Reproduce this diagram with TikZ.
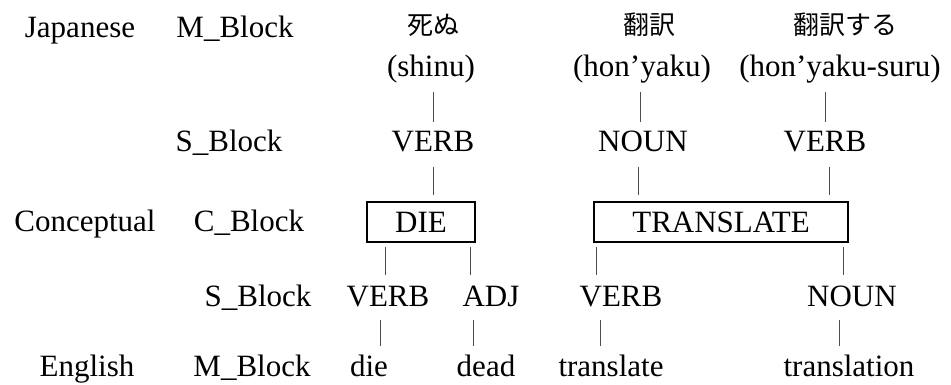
\documentclass[tikz,border=0pt]{standalone}
\usepackage{fontspec}
\setmainfont{Liberation Serif}
\newfontfamily\cjk{Noto Sans CJK JP}
\begin{document}
\begin{tikzpicture}[x=1pt,y=-1pt,
  lbl/.style={anchor=base,inner sep=0pt,font=\fontsize{31}{37}\selectfont},
  jp/.style={anchor=base,inner sep=0pt,font=\cjk\fontsize{26}{30}\selectfont},
  conn/.style={draw=black!70,line width=1pt},
  cbox/.style={draw,line width=1.6pt,inner sep=0pt,minimum height=40pt,font=\fontsize{31}{37}\selectfont}]
\useasboundingbox[fill=white] (0,0) rectangle (951,385);
% row 1
\node[lbl] (ja) at (80,38) {Japanese};
\node[lbl] (mj) at (235,38) {M\_Block};
\node[jp] (k1) at (433,35) {死ぬ};
\node[jp] (k2) at (649,35) {翻訳};
\node[jp] (k3) at (845,35) {翻訳する};
\node[lbl] (r1) at (431,77) {(shinu)};
\node[lbl] (r2) at (642,77) {(hon’yaku)};
\node[lbl] (r3) at (840,77) {(hon’yaku-suru)};
% row 2
\node[lbl] (sj) at (229,152) {S\_Block};
\node[lbl] (jv1) at (433,152) {VERB};
\node[lbl] (jn) at (643,152) {NOUN};
\node[lbl] (jv2) at (825,152) {VERB};
% row 3
\node[lbl] (co) at (85,231) {Conceptual};
\node[lbl] (cb) at (249,231) {C\_Block};
\node[cbox,minimum width=108pt] (die) at (421,222) {DIE};
\node[cbox,minimum width=254pt] (tr) at (721,222) {TRANSLATE};
% row 4
\node[lbl] (se) at (258,306) {S\_Block};
\node[lbl] (ev1) at (388,306) {VERB};
\node[lbl] (ea) at (491,306) {ADJ};
\node[lbl] (ev2) at (621,306) {VERB};
\node[lbl] (en) at (852,306) {NOUN};
% row 5
\node[lbl] (eg) at (87,376) {English};
\node[lbl] (me) at (252,376) {M\_Block};
\node[lbl] (w1) at (369,376) {die};
\node[lbl] (w2) at (486,376) {dead};
\node[lbl] (w3) at (611,376) {translate};
\node[lbl] (w4) at (849,376) {translation};
% connector end points
\foreach \n/\x/\ya/\yb in {a1/433/92/122, a2/640/92/122, a3/825/92/122,
  b1/433/167/195, b2/638/167/195, b3/829/167/195,
  c1/385/247/275, c2/470/247/275, c3/596/247/275, c4/843/247/275,
  d1/380/320/346, d2/473/320/346, d3/600/320/346, d4/839/320/346}{
  \coordinate (\n t) at (\x,\ya);
  \coordinate (\n b) at (\x,\yb);
}
\foreach \n in {a1,a2,a3,b1,b2,b3,c1,c2,c3,c4,d1,d2,d3,d4}{
  \draw[conn] (\n t) -- (\n b);
}
\end{tikzpicture}
\end{document}
